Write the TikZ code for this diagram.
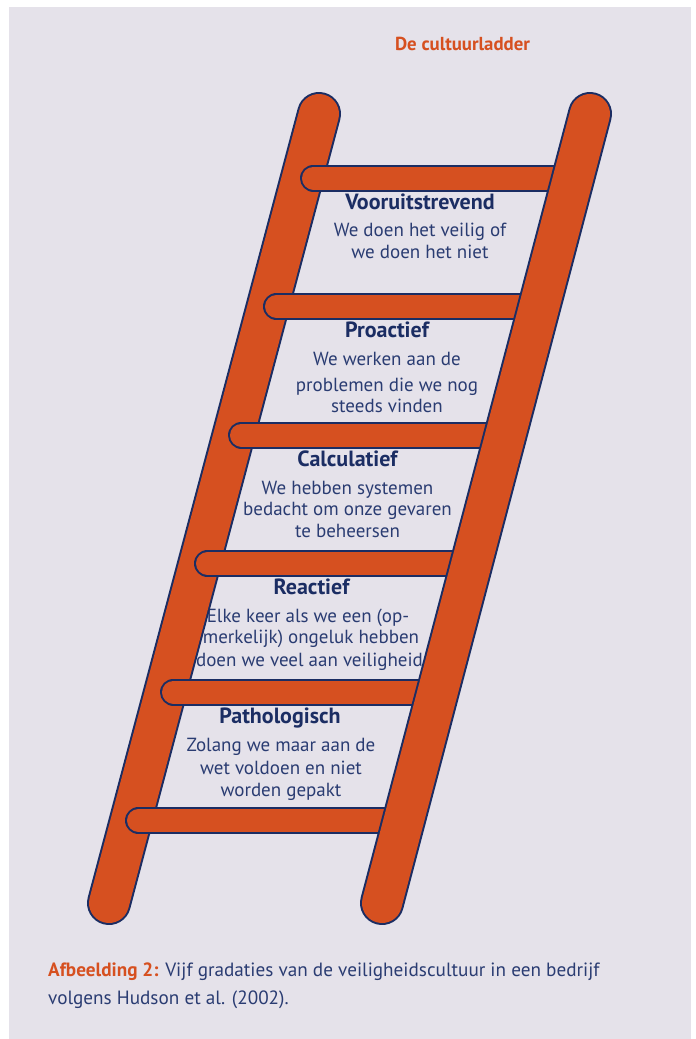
\documentclass[tikz,border=0pt]{standalone}
\usepackage{fontspec}
\setmainfont{PT Sans}
\definecolor{ladder}{HTML}{D65020}
\definecolor{navy}{HTML}{1B2D63}
\definecolor{bodytxt}{HTML}{2A3C72}
\definecolor{panel}{HTML}{E5E2EA}
\begin{document}
\begin{tikzpicture}[x=1pt,y=-1pt,
  title/.style={anchor=base,inner sep=0pt,font=\fontsize{22}{24}\selectfont\bfseries,text=navy},
  body/.style={anchor=base,inner sep=0pt,font=\fontsize{19}{22}\selectfont,text=bodytxt},
  captxt/.style={anchor=base west,inner sep=0pt,font=\fontsize{19.2}{22}\selectfont,text=bodytxt},
  railout/.style={draw=navy,line width=44pt,line cap=round},
  railin/.style={draw=ladder,line width=40pt,line cap=round},
  rungout/.style={draw=navy,line width=27pt,line cap=round},
  rungin/.style={draw=ladder,line width=23pt,line cap=round}]
\useasboundingbox (0,0) rectangle (696,1039);
\fill[white] (0,0) rectangle (696,1039);
\fill[panel] (9,7) rectangle (691,1039);
% heading
\node[anchor=base,inner sep=0pt,font=\fontsize{18.8}{21}\selectfont\bfseries,text=ladder] (head) at (462.5,50.5) {De cultuurladder};
% texts
\node[title] (t1) at (420,209.3) {Vooruitstrevend};
\node[body] (b1a) at (420,236) {We doen het veilig of};
\node[body] (b1b) at (420,258.3) {we doen het niet};
\node[title] (t2) at (387,337.3) {Proactief};
\node[body] (b2a) at (387,365) {We werken aan de};
\node[body] (b2b) at (387,391.7) {problemen die we nog};
\node[body] (b2c) at (387,412.7) {steeds vinden};
\node[title] (t3) at (347.5,466) {Calculatief};
\node[body] (b3a) at (347.5,494) {We hebben systemen};
\node[body] (b3b) at (347.5,515) {bedacht om onze gevaren};
\node[body] (b3c) at (347.5,537.3) {te beheersen};
\node[title] (t4) at (311.5,594.3) {Reactief};
\node[body] (b4a) at (308,622.7) {Elke keer als we een (op-};
\node[body] (b4b) at (311,643.3) {merkelijk) ongeluk hebben};
\node[body] (b4c) at (311.5,666) {doen we veel aan veiligheid.};
\node[title] (t5) at (280,723) {Pathologisch};
\node[body] (b5a) at (281,751) {Zolang we maar aan de};
\node[body] (b5b) at (281,774) {wet voldoen en niet};
\node[body] (b5c) at (281,796) {worden gepakt};
% left rail
\coordinate (lt) at (319,114);
\coordinate (lb) at (109,903);
\coordinate (rt) at (590,114);
\coordinate (rb) at (382,903);
\draw[railout] (lt) -- (lb);
\draw[railin] (lt) -- (lb);
% rungs
\foreach \y/\xl in {178/313.5, 306.5/276.5, 435/241.5, 563.5/207.5, 692/173.5, 820.5/138.5}{
  \pgfmathsetmacro\xr{590-0.2636*(\y-114)}
  \coordinate (ra) at (\xl,\y);
  \coordinate (rz) at (\xr,\y);
  \draw[rungout] (ra) -- (rz);
  \draw[rungin] (ra) -- (rz);
}
% right rail
\draw[railout] (rt) -- (rb);
\draw[railin] (rt) -- (rb);
% caption
\node[captxt] (c1) at (48,976) {\textcolor{ladder}{\bfseries Afbeelding 2:} Vijf gradaties van de veiligheidscultuur in een bedrijf};
\node[captxt] (c2) at (48,1004) {volgens Hudson et al. (2002).};
\end{tikzpicture}
\end{document}
